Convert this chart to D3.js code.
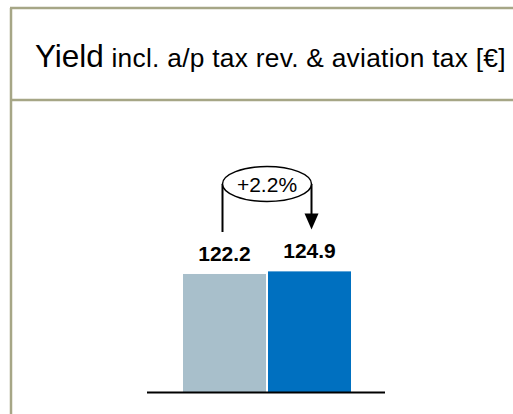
<!DOCTYPE html>
<html>
<head>
<meta charset="utf-8">
<script src="https://cdn.jsdelivr.net/npm/d3@7"></script>
<style>
  html, body { margin: 0; padding: 0; background: #fff; }
  svg { display: block; }
</style>
</head>
<body>
<div id="chart"></div>
<script>
// Yield per passenger, previous vs current period
const categories = ["Previous", "Current"];
const values = [122.2, 124.9];
const valueLabels = ["122.2", "124.9"];
const barColors = ["#a8bfcb", "#0070c0"];
const changeLabel = "+2.2%";

const W = 513, H = 414;
const svg = d3.select("#chart").append("svg")
  .attr("width", W).attr("height", H);

const frameColor = "#a6a686";

// panel frame: top rule, left rule, divider under the title
svg.append("line").attr("x1", 10).attr("x2", W).attr("y1", 8).attr("y2", 8)
  .attr("stroke", frameColor).attr("stroke-width", 2.5);
svg.append("line").attr("x1", 11).attr("x2", 11).attr("y1", 8).attr("y2", H)
  .attr("stroke", frameColor).attr("stroke-width", 2.5);
svg.append("line").attr("x1", 11).attr("x2", W).attr("y1", 100).attr("y2", 100)
  .attr("stroke", frameColor).attr("stroke-width", 2.5);

// title
const title = svg.append("text")
  .attr("x", 35).attr("y", 66.5)
  .attr("font-family", "Liberation Sans, Arial, sans-serif")
  .attr("fill", "#000");
title.append("tspan").attr("font-size", 31.5).text("Yield");
title.append("tspan").attr("font-size", 26.3).attr("letter-spacing", 0.28)
  .text(" incl. a/p tax rev. & aviation tax [€]");

// scales
const baseY = 392;
const x = d3.scaleBand().domain(categories).range([183, 351])
  .paddingInner(0.0235).paddingOuter(0);
const y = d3.scaleLinear().domain([0, 140]).range([baseY, baseY - 135.2]);

// bars
svg.selectAll("rect.bar").data(values).enter().append("rect")
  .attr("class", "bar")
  .attr("x", (d, i) => x(categories[i]))
  .attr("width", x.bandwidth())
  .attr("y", d => y(d))
  .attr("height", d => y(0) - y(d))
  .attr("fill", (d, i) => barColors[i]);

// baseline
svg.append("line").attr("x1", 147).attr("x2", 385)
  .attr("y1", baseY + 0.5).attr("y2", baseY + 0.5)
  .attr("stroke", "#000").attr("stroke-width", 2);

// value labels
svg.selectAll("text.val").data(values).enter().append("text")
  .attr("class", "val")
  .attr("x", (d, i) => x(categories[i]) + x.bandwidth() / 2)
  .attr("y", d => y(d) - 13)
  .attr("text-anchor", "middle")
  .attr("font-family", "Liberation Sans, Arial, sans-serif")
  .attr("font-weight", "bold")
  .attr("font-size", 21)
  .text((d, i) => valueLabels[i]);

// change indicator: ellipse with connector and arrow
const cx = 267, cy = 184, rx = 44.5, ry = 17.5;
const leftX = cx - rx, rightX = cx + rx;
svg.append("line").attr("x1", leftX).attr("x2", leftX)
  .attr("y1", cy).attr("y2", y(values[0]) - 42)
  .attr("stroke", "#000").attr("stroke-width", 2);
const tipY = y(values[1]) - 42;
svg.append("line").attr("x1", rightX).attr("x2", rightX)
  .attr("y1", cy).attr("y2", tipY - 14)
  .attr("stroke", "#000").attr("stroke-width", 2);
svg.append("path")
  .attr("d", `M${rightX - 7},${tipY - 16} L${rightX + 7},${tipY - 16} L${rightX},${tipY} Z`)
  .attr("fill", "#000");
svg.append("ellipse").attr("cx", cx).attr("cy", cy).attr("rx", rx).attr("ry", ry)
  .attr("fill", "#fff").attr("stroke", "#000").attr("stroke-width", 1.5);
svg.append("text").attr("x", cx).attr("y", cy + 7.5)
  .attr("text-anchor", "middle")
  .attr("font-family", "Liberation Sans, Arial, sans-serif")
  .attr("font-size", 21)
  .text(changeLabel);
</script>
</body>
</html>
